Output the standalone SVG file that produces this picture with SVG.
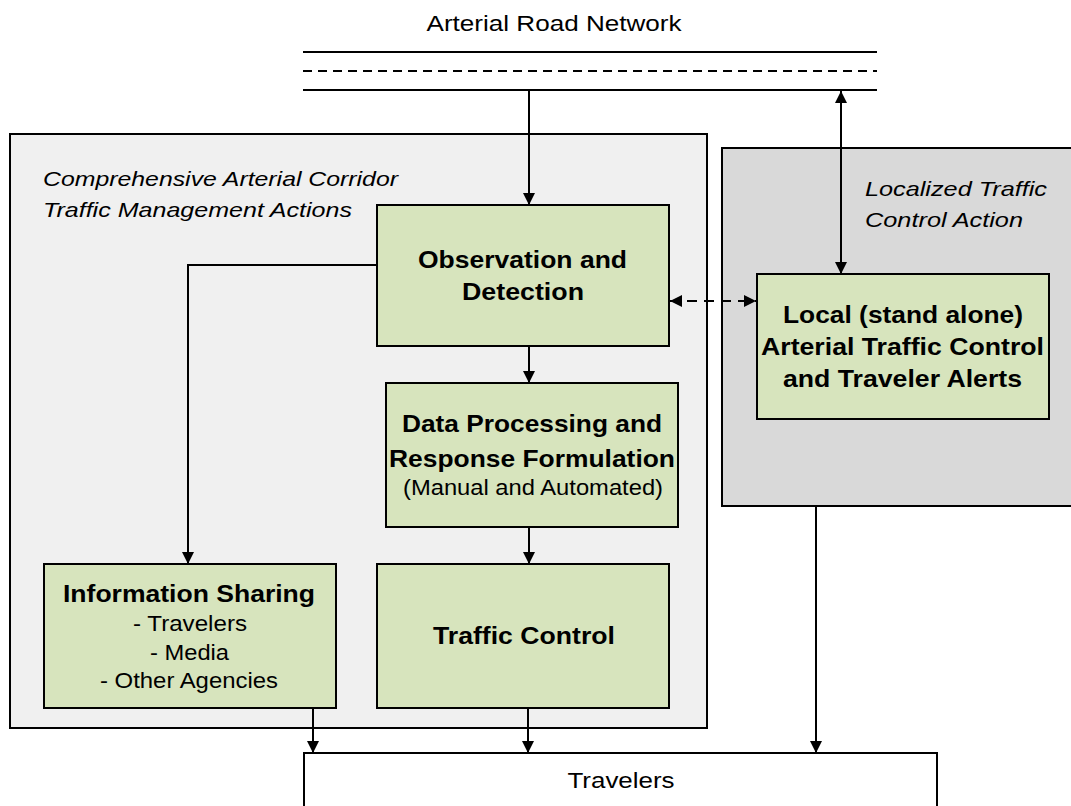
<svg xmlns="http://www.w3.org/2000/svg" width="1071" height="806" viewBox="0 0 1071 806">
<style>
text{font-family:"Liberation Sans",Arial,sans-serif;fill:#000}
.b{font-weight:bold;font-size:24px}
.r{font-size:22px}
.i{font-style:italic;font-size:21px}
.box{fill:#d7e4bd;stroke:#000;stroke-width:2}
.ln{stroke:#000;stroke-width:2;fill:none}
</style>
<defs>
<marker id="ah" viewBox="0 0 10 10" refX="10" refY="5" markerWidth="12" markerHeight="12" markerUnits="userSpaceOnUse" orient="auto-start-reverse">
<path d="M0,0 L10,5 L0,10 Z" fill="#000"/>
</marker>
</defs>
<rect width="1071" height="806" fill="#fff"/>
<g id="road">
<text class="r" x="554" y="31" text-anchor="middle" textLength="255" lengthAdjust="spacingAndGlyphs">Arterial Road Network</text>
<line class="ln" x1="303" y1="52" x2="877" y2="52"/>
<line class="ln" x1="303" y1="71" x2="877" y2="71" stroke-dasharray="9,6"/>
<line class="ln" x1="303" y1="90" x2="877" y2="90"/>
</g>
<g id="corridor">
<rect x="10" y="134" width="697" height="594" fill="#f0f0f0" stroke="#000" stroke-width="2"/>
<text class="i" x="43" y="186" textLength="355" lengthAdjust="spacingAndGlyphs">Comprehensive Arterial Corridor</text>
<text class="i" x="43" y="217" textLength="309" lengthAdjust="spacingAndGlyphs">Traffic Management Actions</text>
</g>
<g id="localized">
<rect x="722" y="148" width="352" height="358" fill="#d9d9d9" stroke="#000" stroke-width="2"/>
<text class="i" x="865" y="196" textLength="182" lengthAdjust="spacingAndGlyphs">Localized Traffic</text>
<text class="i" x="865" y="227" textLength="158" lengthAdjust="spacingAndGlyphs">Control Action</text>
</g>
<g id="travelers">
<rect x="304" y="753" width="633" height="60" fill="#fff" stroke="#000" stroke-width="2"/>
<text class="r" x="621" y="788" text-anchor="middle" textLength="107" lengthAdjust="spacingAndGlyphs">Travelers</text>
</g>
<g id="observation">
<rect class="box" x="377" y="205" width="292" height="141"/>
<text class="b" x="522.5" y="268" text-anchor="middle" textLength="209" lengthAdjust="spacingAndGlyphs">Observation and</text>
<text class="b" x="523" y="300" text-anchor="middle" textLength="122" lengthAdjust="spacingAndGlyphs">Detection</text>
</g>
<g id="processing">
<rect class="box" x="386" y="383" width="292" height="144"/>
<text class="b" x="532" y="432" text-anchor="middle" textLength="260" lengthAdjust="spacingAndGlyphs">Data Processing and</text>
<text class="b" x="532" y="467" text-anchor="middle" textLength="286" lengthAdjust="spacingAndGlyphs">Response Formulation</text>
<text class="r" x="533" y="495" text-anchor="middle" textLength="260" lengthAdjust="spacingAndGlyphs">(Manual and Automated)</text>
</g>
<g id="info">
<rect class="box" x="44" y="564" width="292" height="144"/>
<text class="b" x="189" y="602" text-anchor="middle" textLength="252" lengthAdjust="spacingAndGlyphs">Information Sharing</text>
<text class="r" x="190" y="631" text-anchor="middle" textLength="114" lengthAdjust="spacingAndGlyphs">- Travelers</text>
<text class="r" x="189.5" y="660" text-anchor="middle" textLength="79" lengthAdjust="spacingAndGlyphs">- Media</text>
<text class="r" x="189" y="688" text-anchor="middle" textLength="178" lengthAdjust="spacingAndGlyphs">- Other Agencies</text>
</g>
<g id="traffic-control">
<rect class="box" x="377" y="564" width="292" height="144"/>
<text class="b" x="524" y="644" text-anchor="middle" textLength="182" lengthAdjust="spacingAndGlyphs">Traffic Control</text>
</g>
<g id="local">
<rect class="box" x="757" y="274" width="292" height="145"/>
<text class="b" x="903" y="323" text-anchor="middle" textLength="240" lengthAdjust="spacingAndGlyphs">Local (stand alone)</text>
<text class="b" x="902.5" y="355" text-anchor="middle" textLength="283" lengthAdjust="spacingAndGlyphs">Arterial Traffic Control</text>
<text class="b" x="902.5" y="387" text-anchor="middle" textLength="239" lengthAdjust="spacingAndGlyphs">and Traveler Alerts</text>
</g>
<g id="connectors">
<line class="ln" x1="529" y1="90" x2="529" y2="205" marker-end="url(#ah)"/>
<line class="ln" x1="841" y1="91" x2="841" y2="274" marker-start="url(#ah)" marker-end="url(#ah)"/>
<line class="ln" x1="529" y1="346" x2="529" y2="383" marker-end="url(#ah)"/>
<polyline class="ln" points="377,265 188,265 188,564" marker-end="url(#ah)"/>
<line class="ln" x1="529" y1="527" x2="529" y2="564" marker-end="url(#ah)"/>
<line class="ln" x1="670" y1="301" x2="756" y2="301" stroke-dasharray="10,7" marker-start="url(#ah)" marker-end="url(#ah)"/>
<line class="ln" x1="313" y1="708" x2="313" y2="753" marker-end="url(#ah)"/>
<line class="ln" x1="528" y1="708" x2="528" y2="753" marker-end="url(#ah)"/>
<line class="ln" x1="816" y1="506" x2="816" y2="753" marker-end="url(#ah)"/>
</g>
</svg>
